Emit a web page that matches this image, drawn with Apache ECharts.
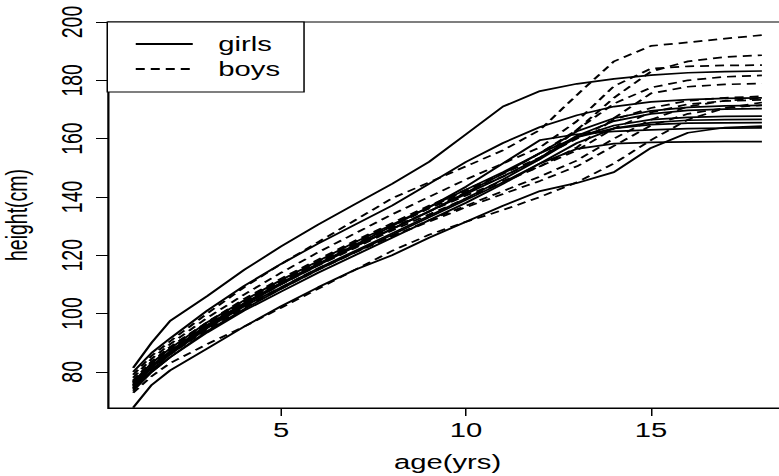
<!DOCTYPE html>
<html>
<head>
<meta charset="utf-8">
<script src="https://cdn.jsdelivr.net/npm/echarts@6/dist/echarts.min.js"></script>
<style>
html,body{margin:0;padding:0;background:#fff;}
#outer{width:779px;height:476px;overflow:hidden;position:relative;background:#fff;}
#chart{width:540px;height:476px;transform:scaleX(1.5);transform-origin:0 0;}
</style>
</head>
<body>
<div id="outer"><div id="chart"></div></div>
<script>
// ages (years) at which heights are plotted
const ages = [1, 1.5, 2, 3, 4, 5, 6, 7, 8, 9, 10, 11, 12, 13, 14, 15, 16, 17, 18];
const xTicks = [5, 10, 15];
const yTicks = [80, 100, 120, 140, 160, 180, 200];

// girls' heights (cm)
const girl01 = [81.4, 90, 97.5, 106, 115, 123, 130.5, 137.5, 144.5, 152, 161.5, 171, 176.3, 178.8, 180.5, 181.8, 182.6, 183, 183.2];
const girl02 = [80, 86.5, 91.5, 101, 109.5, 117, 124, 130.5, 137, 144.5, 152, 158.5, 164, 168, 171, 172.6, 173.4, 173.8, 174];
const girl03 = [76.5, 83, 88, 97, 104.5, 111.5, 118, 124.5, 130.5, 136.5, 142.5, 148.5, 155, 162.5, 167, 169.5, 170.7, 171.2, 171.4];
const girl04 = [75, 81.5, 86.5, 95.5, 103, 110, 116.5, 123, 129, 135, 141, 147, 153.5, 161, 166, 168.5, 169.7, 170.1, 170.3];
const girl05 = [74.5, 80.5, 86, 95, 102.5, 109, 115.5, 121.5, 127.5, 133.5, 139.5, 146, 153, 160.5, 164.5, 166.5, 167.3, 167.6, 167.7];
const girl06 = [73.5, 80, 85, 94, 101.5, 108.5, 115, 121, 127, 133, 139, 145, 151.5, 158.5, 163.5, 165.5, 166.3, 166.5, 166.6];
const girl07 = [75.5, 82, 87, 96, 103.5, 110.5, 117, 123, 129, 135, 141.5, 148, 155, 160.5, 163.5, 164.8, 165.3, 165.4, 165.5];
const girl08 = [67.7, 75.5, 80.5, 88, 95.5, 102.5, 109, 115, 120, 126, 131.5, 137, 142, 144.8, 148.5, 156.8, 162, 163.8, 164.3];
const girl09 = [76, 82, 87, 96, 103.5, 110.5, 117, 123.5, 130, 136.5, 143.5, 151.5, 159.5, 161.5, 162.5, 163, 163.4, 163.6, 163.7];
const girl10 = [74, 80, 85, 93.5, 101, 107.5, 114, 120, 126, 132, 138, 144.5, 151.5, 156.5, 158.3, 158.7, 158.9, 159, 159];

// boys' heights (cm)
const boy01 = [79, 85.5, 90.5, 100, 109, 117, 124.5, 132, 139.5, 145, 150.5, 156, 163, 175, 186.5, 191.8, 193, 194.3, 195.5];
const boy02 = [77, 83.5, 88.5, 97, 104.5, 111.5, 118, 124.5, 130.5, 136.5, 142, 148, 155, 163, 174, 183, 186.5, 188, 188.6];
const boy03 = [78, 84.5, 89.5, 98.5, 106.5, 114, 121, 127.5, 134, 140, 146, 151.5, 157, 166, 178, 184, 184.8, 185.1, 185.2];
const boy04 = [76, 82.5, 87.5, 96.5, 104, 111, 117.5, 124, 130, 136, 141.5, 147, 153, 163, 172, 177.5, 180, 181.2, 181.7];
const boy05 = [75.5, 82, 87, 95.5, 103, 110, 116.5, 122.5, 128.5, 134, 139.5, 145, 150.5, 157, 167, 175.5, 177.8, 178.6, 178.9];
const boy06 = [77, 83.5, 88.5, 97, 105, 112, 118.5, 125, 131, 137, 142.5, 148, 153.5, 160, 166.5, 170.5, 173, 174, 174.5];
const boy07 = [74.5, 81, 86, 94.5, 102, 108.5, 115, 121, 126.5, 132, 137, 142, 147, 152.5, 160, 166.5, 171, 173, 173.8];
const boy08 = [76.5, 83, 88, 96.5, 104, 111, 117.5, 123.5, 129.5, 135, 140.5, 145.5, 150.5, 156, 163.5, 169, 171.8, 172.9, 173.3];
const boy09 = [72.8, 78.5, 83, 89.5, 95.5, 102, 108.5, 115, 121.5, 127, 131.5, 135.5, 140, 145, 151.5, 159.5, 166.5, 170.5, 172.4];
const boy10 = [75, 81.5, 86.5, 95, 102.5, 109, 115.5, 121, 126.5, 131.5, 136.5, 141, 145.5, 150.5, 157.5, 164.5, 168.5, 170.5, 171.5];

const girls = [girl01, girl02, girl03, girl04, girl05, girl06, girl07, girl08, girl09, girl10];
const boys = [boy01, boy02, boy03, boy04, boy05, boy06, boy07, boy08, boy09, boy10];

const FONT = "'Liberation Sans', Arial, Helvetica, sans-serif";
const FS = 19.5;

function mkSeries(name, arr, dashed) {
  return {
    name: name,
    type: 'line',
    data: ages.map((a, i) => [a, arr[i]]),
    symbol: 'none',
    showSymbol: false,
    silent: true,
    clip: true,
    lineStyle: { color: '#000', width: 1.7, type: dashed ? [6, 4] : 'solid' },
    itemStyle: { color: '#000' },
    emphasis: { disabled: true }
  };
}

const series = [];
girls.forEach(g => series.push(mkSeries('girls', g, false)));
boys.forEach(b => series.push(mkSeries('boys', b, true)));

const chart = echarts.init(document.getElementById('chart'), null, { renderer: 'svg' });
chart.setOption({
  animation: false,
  backgroundColor: '#fff',
  textStyle: { fontFamily: FONT },
  grid: {
    left: 72, right: 15.3, top: 22, bottom: 68,
    containLabel: false,
    outerBoundsMode: 'none',
    show: true, borderColor: '#000', borderWidth: 1, backgroundColor: 'transparent'
  },
  legend: {
    data: ['girls', 'boys'],
    orient: 'vertical',
    left: 71.5, top: 22,
    padding: [12, 16, 13, 18],
    itemWidth: 38, itemHeight: 14, itemGap: 5,
    borderColor: '#000', borderWidth: 1,
    backgroundColor: '#fff',
    selectedMode: false,
    itemStyle: { color: 'transparent', borderWidth: 0, opacity: 0 },
    textStyle: { fontFamily: FONT, fontSize: FS, lineHeight: 20, color: '#000', padding: [0, 0, 0, 12] }
  },
  xAxis: {
    type: 'value',
    min: 0.32, max: 18.68,
    name: 'age(yrs)',
    nameLocation: 'middle',
    nameGap: 44,
    nameTextStyle: { fontFamily: FONT, fontSize: FS, color: '#000' },
    axisLine: { show: true, lineStyle: { color: '#000', width: 1 } },
    axisTick: { show: true, length: 8, customValues: xTicks, lineStyle: { color: '#000' } },
    axisLabel: { customValues: xTicks, margin: 12, fontFamily: FONT, fontSize: FS, color: '#000' },
    splitLine: { show: false }
  },
  yAxis: {
    type: 'value',
    min: 67.6, max: 200,
    name: 'height(cm)',
    nameLocation: 'middle',
    nameGap: 51,
    nameTextStyle: { fontFamily: FONT, fontSize: FS, color: '#000' },
    axisLine: { show: true, lineStyle: { color: '#000', width: 1 } },
    axisTick: { show: true, length: 8, customValues: yTicks, lineStyle: { color: '#000' } },
    axisLabel: { customValues: yTicks, rotate: 90, margin: 14, fontFamily: FONT, fontSize: FS, color: '#000' },
    splitLine: { show: false }
  },
  series: series
});
</script>
</body>
</html>
